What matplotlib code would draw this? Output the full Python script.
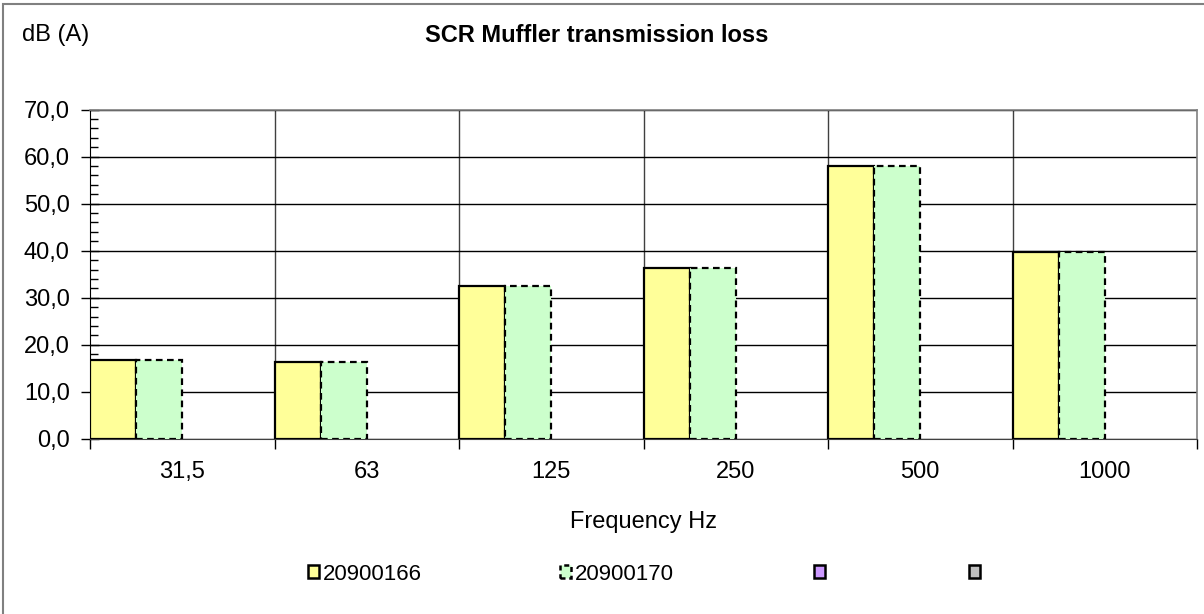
import numpy as np
import matplotlib.pyplot as plt
from matplotlib.patches import Rectangle, Patch

plt.rcParams['font.family'] = ['Liberation Sans', 'DejaVu Sans']

categories = ['31,5', '63', '125', '250', '500', '1000']
s_20900166 = [16.7, 16.3, 32.4, 36.4, 58.1, 39.7]
s_20900170 = [16.7, 16.3, 32.4, 36.4, 58.1, 39.7]
series_names = ['20900166', '20900170', '', '']
series_colors = ['#FFFF99', '#CCFFCC', '#CC99FF', '#C0C0C0']

FS = 17
W, H = 1204, 614
fig = plt.figure(figsize=(W / 100, H / 100), dpi=100)
ax = fig.add_axes([90 / W, 1 - 439 / H, (1197 - 90) / W, (439 - 109.5) / H])

x = np.arange(len(categories))
bw = 0.25
ax.bar(x + bw / 2, s_20900166, width=bw, color=series_colors[0],
       edgecolor='black', linewidth=1.6, zorder=3)
ax.bar(x + 1.5 * bw, s_20900170, width=bw, color=series_colors[1],
       edgecolor='black', linewidth=1.6, linestyle=(0, (3, 2)), zorder=3)

ax.set_xlim(0, len(categories))
ax.set_ylim(0, 70)

# y axis
ax.set_yticks(np.arange(0, 71, 10))
ax.set_yticklabels([f'{v:.1f}'.replace('.', ',') for v in np.arange(0, 71, 10)])
ax.set_yticks(np.arange(0, 71, 2), minor=True)
ax.tick_params(axis='y', which='major', direction='inout', length=13, width=1,
               labelsize=FS, pad=8)
ax.tick_params(axis='y', which='minor', direction='in', length=6, width=1)
ax.yaxis.grid(True, which='major', color='black', linewidth=1, zorder=0)

# x axis: ticks on boundaries, labels centred
ax.set_xticks(np.arange(0, len(categories) + 1))
ax.set_xticklabels([])
ax.set_xticks(x + 0.5, minor=True)
ax.set_xticklabels(categories, minor=True)
ax.tick_params(axis='x', which='major', direction='out', length=7, width=1)
ax.tick_params(axis='x', which='minor', length=0, labelsize=FS, pad=16)
for b in np.arange(1, len(categories)):
    ax.axvline(b, color='#404040', linewidth=1, zorder=0)

for side in ['top', 'right']:
    ax.spines[side].set_color('#808080')
    ax.spines[side].set_linewidth(1.2)
ax.spines['left'].set_color('black')
ax.spines['bottom'].set_color('#404040')

ax.set_xlabel('Frequency Hz', fontsize=FS, labelpad=20)

fig.text(22 / W, 1 - 35 / H, 'dB (A)', fontsize=FS, va='center', ha='left')
fig.text(597 / W, 1 - 36 / H, 'SCR Muffler transmission loss', fontsize=FS,
         fontweight='bold', va='center', ha='center')

# legend, one entry each
leg_x = [308, 560, 814, 969]
styles = ['-', (0, (2, 1.5)), '-', '-']
for name, col, ls, lx in zip(series_names, series_colors, styles, leg_x):
    h = Patch(facecolor=col, edgecolor='black', linewidth=1.8, linestyle=ls)
    lg = fig.legend([h], [name], loc='center left',
                    bbox_to_anchor=(lx / W, 1 - 574 / H), frameon=False,
                    fontsize=16, handlelength=0.5, handleheight=0.5,
                    handletextpad=0.15, borderpad=0, borderaxespad=0)

# outer chart border
fig.patches.append(Rectangle((3 / W, -0.05), 1.2, 1 - 4 / H + 0.05,
                             transform=fig.transFigure, fill=False,
                             edgecolor='#808080', linewidth=1.5))

fig.savefig('out.png', dpi=100)
